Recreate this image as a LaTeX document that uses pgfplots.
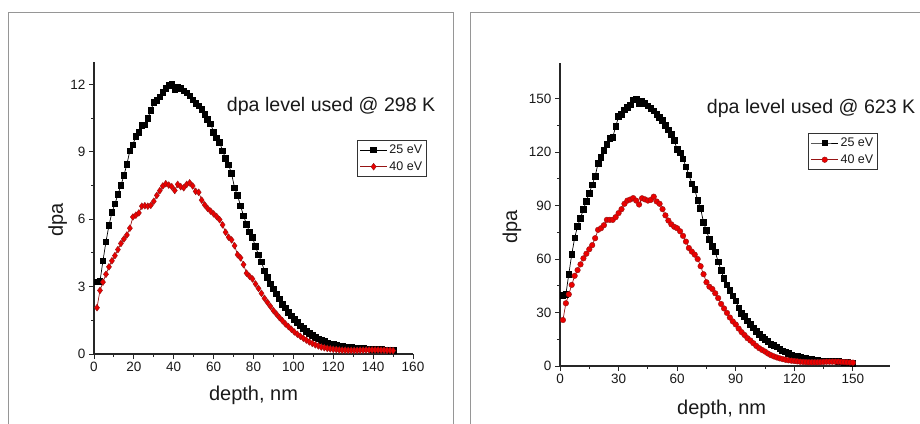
\documentclass[border=0pt]{standalone}
\usepackage{fontspec}
\setmainfont{Liberation Sans}
\usepackage{pgfplots}
\usepackage{pgfplotstable}
\pgfplotsset{compat=1.18}
\definecolor{dred}{RGB}{150,20,20}
\definecolor{mred}{RGB}{235,0,0}
\definecolor{framegray}{RGB}{150,150,150}
\definecolor{txt}{RGB}{25,25,25}
\pgfplotstableread{
x lb lr rb rr
1.5 3.22 2.06 39.8 25.8
3.0 3.24 2.83 40.2 35.2
4.5 4.15 3.20 51.5 40.2
6.0 5.00 3.55 62.5 45.5
7.5 5.72 3.88 71.8 50.6
9.0 6.30 4.15 78.5 53.8
10.5 6.68 4.38 83.0 57.0
12.0 7.10 4.65 88.0 60.4
13.5 7.50 4.92 92.5 63.0
15.0 7.95 5.12 97.0 65.5
16.5 8.45 5.30 101.6 67.8
18.0 9.05 5.60 106.5 71.7
19.5 9.32 6.10 113.7 76.4
21.0 9.70 6.18 117.0 77.3
22.5 9.88 6.28 121.0 79.0
24.0 10.18 6.58 124.2 82.0
25.5 10.20 6.60 127.8 82.0
27.0 10.50 6.58 128.3 82.0
28.5 10.85 6.62 134.3 83.5
30.0 11.20 6.80 140.0 85.8
31.5 11.30 7.06 141.3 88.0
33.0 11.45 7.27 143.7 91.0
34.5 11.65 7.48 145.2 92.8
36.0 11.82 7.58 146.5 93.4
37.5 11.95 7.52 149.3 94.2
39.0 12.02 7.45 149.5 92.8
40.5 11.78 7.28 147.4 90.6
42.0 11.88 7.55 148.4 94.1
43.5 11.82 7.45 147.2 93.5
45.0 11.72 7.40 146.0 92.8
46.5 11.62 7.55 144.6 93.2
48.0 11.50 7.62 143.2 95.0
49.5 11.32 7.48 141.2 92.3
51.0 11.15 7.24 139.5 91.0
52.5 11.05 7.20 137.8 88.0
54.0 10.88 6.85 135.0 84.5
55.5 10.68 6.64 132.5 81.6
57.0 10.45 6.48 129.8 79.5
58.5 10.25 6.36 126.5 78.1
60.0 9.88 6.24 121.5 77.3
61.5 9.63 6.12 119.6 75.6
63.0 9.42 5.98 116.2 73.0
64.5 9.05 5.75 111.8 69.8
66.0 8.70 5.42 107.3 66.2
67.5 8.42 5.20 102.3 64.2
69.0 8.03 5.08 99.0 62.5
70.5 7.40 4.82 93.0 60.0
72.0 7.05 4.42 88.5 56.0
73.5 6.60 4.28 80.5 51.5
75.0 6.15 3.98 76.0 47.0
76.5 5.78 3.60 71.0 44.5
78.0 5.43 3.46 67.0 43.2
79.5 5.18 3.34 64.0 40.8
81.0 4.78 3.12 58.5 38.1
82.5 4.42 2.92 53.5 34.8
84.0 4.10 2.70 49.2 32.3
85.5 3.70 2.48 45.6 29.8
87.0 3.40 2.30 42.5 27.2
88.5 3.12 2.12 39.4 25.0
90.0 2.90 1.93 36.5 23.3
91.5 2.68 1.78 32.7 21.0
93.0 2.45 1.62 29.4 19.0
94.5 2.22 1.48 27.8 17.4
96.0 2.05 1.34 25.3 15.6
97.5 1.86 1.22 23.5 14.3
99.0 1.70 1.10 21.4 12.8
100.5 1.54 0.98 19.3 11.3
102.0 1.40 0.88 17.8 10.0
103.5 1.26 0.79 16.2 9.0
105.0 1.14 0.70 15.0 8.1
106.5 1.02 0.62 13.7 7.0
108.0 0.91 0.54 12.3 6.1
109.5 0.82 0.47 11.5 5.4
111.0 0.74 0.41 10.8 4.8
112.5 0.67 0.36 9.6 4.3
114.0 0.60 0.31 8.6 3.9
115.5 0.55 0.28 7.9 3.5
117.0 0.50 0.25 7.0 3.2
118.5 0.46 0.23 6.2 3.0
120.0 0.43 0.21 5.8 2.8
121.5 0.40 0.20 5.4 2.6
123.0 0.37 0.18 5.0 2.4
124.5 0.34 0.17 4.5 2.3
126.0 0.32 0.17 4.2 2.2
127.5 0.30 0.16 3.9 2.1
129.0 0.29 0.16 3.6 2.1
130.5 0.27 0.16 3.4 2.1
132.0 0.26 0.16 3.2 2.1
133.5 0.25 0.17 3.0 2.2
135.0 0.24 0.17 2.9 2.3
136.5 0.23 0.18 2.8 2.4
138.0 0.23 0.18 2.8 2.4
139.5 0.22 0.18 2.8 2.4
141.0 0.22 0.18 2.8 2.4
142.5 0.21 0.18 2.6 2.4
144.0 0.20 0.17 2.4 2.3
145.5 0.19 0.17 2.2 2.2
147.0 0.18 0.16 1.9 2.1
148.5 0.17 0.16 1.7 2.0
150.0 0.16 0.15 1.5 1.9
}\dpadata
\pgfplotsset{
  dpastyle/.style={
    scale only axis,
    axis x line=bottom, axis y line=left,
    axis line style={-, line width=1.1pt, black!85},
    tick align=outside,
    major tick length=5pt, minor tick length=3pt,
    tick style={line width=0.9pt, black!85},
    minor tick num=1,
    xmin=0, ymin=0,
    tick label style={font=\fontsize{13.5}{15}\selectfont, text=txt},
    /pgf/number format/assume math mode=true,
    label style={font=\fontsize{20}{23}\selectfont, text=txt},
    legend cell align=left,
    legend style={anchor=north west, draw=black!80, line width=0.8pt,
      font=\fontsize{12.5}{14}\selectfont, text=txt, inner sep=2.5pt,
      row sep=2.5pt, /tikz/every even column/.append style={column sep=2pt}},
    legend image code/.code={\draw[mark repeat=2,mark phase=2,#1] plot coordinates {(0pt,0pt) (13.5pt,0pt) (27pt,0pt)};},
  },
  blk/.style={black, line width=0.7pt, mark=square*, mark size=2.8pt, mark options={solid, fill=black}},
  rdd/.style={dred, line width=0.7pt, mark=diamond*, mark size=3.4pt, mark options={solid, fill=mred, draw=dred, line width=0.4pt}},
  rdc/.style={dred, line width=0.7pt, mark=*, mark size=2.8pt, mark options={solid, fill=mred, draw=dred, line width=0.4pt}},
}
\begin{document}
\begin{tikzpicture}
\useasboundingbox (0pt,0pt) rectangle (920pt,423pt);
\draw[framegray, line width=1pt] (8pt,-2pt) -- (8pt,410pt) -- (453pt,410pt) -- (453pt,-2pt);
\draw[framegray, line width=1pt] (470pt,-2pt) -- (470pt,410pt) -- (925pt,410pt);
\begin{axis}[dpastyle,
  at={(94pt,69pt)}, anchor=south west,
  width=319pt, height=292pt,
  xmax=160, ymax=13,
  xtick={0,20,...,160}, ytick={0,3,...,12},
  xlabel={depth, nm}, ylabel={dpa},
  x label style={at={(axis description cs:0.5,-0.14)}, anchor=center},
  y label style={at={(axis description cs:-0.114,0.459)}, anchor=center, rotate=0},
  legend style={at={(axis description cs:0.824,0.733)}},
]
\addplot[blk] table[x=x, y=lb] {\dpadata};
\addlegendentry{25 eV}
\addplot[rdd] table[x=x, y=lr] {\dpadata};
\addlegendentry{40 eV}
\end{axis}
\node[anchor=west, inner sep=0pt, text=txt, font=\fontsize{19.6}{22}\selectfont] at (226.7pt,316.3pt) {dpa level used @ 298 K};
\begin{axis}[dpastyle,
  at={(560pt,57pt)}, anchor=south west,
  width=330pt, height=303pt,
  xmax=169, ymax=170,
  xtick={0,30,...,150}, ytick={0,30,...,150},
  xlabel={depth, nm}, ylabel={dpa},
  x label style={at={(axis description cs:0.49,-0.142)}, anchor=center},
  y label style={at={(axis description cs:-0.146,0.459)}, anchor=center, rotate=0},
  legend style={at={(axis description cs:0.7515,0.769)}},
]
\addplot[blk] table[x=x, y=rb] {\dpadata};
\addlegendentry{25 eV}
\addplot[rdc] table[x=x, y=rr] {\dpadata};
\addlegendentry{40 eV}
\end{axis}
\node[anchor=west, inner sep=0pt, text=txt, font=\fontsize{19.6}{22}\selectfont] at (706.7pt,315pt) {dpa level used @ 623 K};
\end{tikzpicture}
\end{document}
